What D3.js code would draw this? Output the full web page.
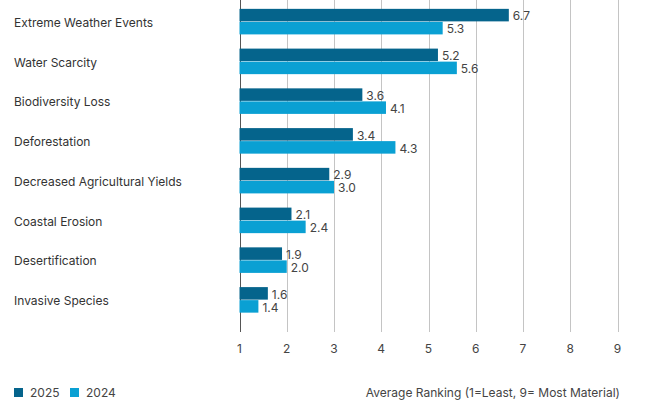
<!DOCTYPE html>
<html>
<head>
<meta charset="utf-8">
<script src="https://d3js.org/d3.v7.min.js"></script>
<style>
  body { margin: 0; background: #fff; }
  svg { display: block; font-family: Inter, 'Open Sans', sans-serif; }
</style>
</head>
<body>
<div id="chart"></div>
<script>
// --- data ---
const categories = [
  "Extreme Weather Events", "Water Scarcity", "Biodiversity Loss", "Deforestation",
  "Decreased Agricultural Yields", "Coastal Erosion", "Desertification", "Invasive Species"
];
const series = ["2025", "2024"];
const values2025 = [6.7, 5.2, 3.6, 3.4, 2.9, 2.1, 1.9, 1.6];
const values2024 = [5.3, 5.6, 4.1, 4.3, 3.0, 2.4, 2.0, 1.4];
const xTicks = [1, 2, 3, 4, 5, 6, 7, 8, 9];
const axisTitle = "Average Ranking (1=Least, 9= Most Material)";

const colors = { "2025": "#05648c", "2024": "#0aa0d3" };
const W = 646, H = 413;

const svg = d3.select("#chart").append("svg").attr("width", W).attr("height", H);

const x = d3.scaleLinear().domain([1, 9]).range([239.5, 617.5]);
const y = d3.scaleBand().domain(categories).range([2, 320]).paddingInner(0.345).paddingOuter(0.1725);
const ySub = d3.scaleBand().domain(series).range([0, y.bandwidth()]);

const rows = categories.map((c, i) => ({ cat: c, vals: { "2025": values2025[i], "2024": values2024[i] } }));

// gridlines
const gridBottom = 332;
svg.append("g").selectAll("line").data(xTicks).join("line")
  .attr("x1", d => Math.round(x(d)) + 0.5).attr("x2", d => Math.round(x(d)) + 0.5)
  .attr("y1", 0).attr("y2", gridBottom)
  .attr("stroke", d => d === 1 ? "#555" : "#c4c4c4").attr("stroke-width", 1);

// tick labels
svg.append("g").selectAll("text").data(xTicks).join("text")
  .attr("x", d => x(d)).attr("y", 353)
  .attr("text-anchor", "middle").attr("font-size", 12).attr("fill", "#444")
  .text(d => d);

// bars
const groups = svg.append("g").selectAll("g").data(rows).join("g")
  .attr("transform", d => `translate(0,${y(d.cat)})`);

groups.selectAll("rect").data(d => series.map(s => ({ s, v: d.vals[s] }))).join("rect")
  .attr("x", x(1))
  .attr("y", d => ySub(d.s))
  .attr("width", d => x(d.v) - x(1))
  .attr("height", ySub.bandwidth() - 0.5)
  .attr("fill", d => colors[d.s]);

groups.selectAll("text.val").data(d => series.map(s => ({ s, v: d.vals[s] }))).join("text")
  .attr("class", "val")
  .attr("x", d => x(d.v) + 4)
  .attr("y", d => ySub(d.s) + ySub.bandwidth() / 2 + 5)
  .attr("font-size", 12).attr("fill", "#444")
  .text(d => d.v.toFixed(1));

// category labels
svg.append("g").selectAll("text").data(categories).join("text")
  .attr("x", 14).attr("y", d => y(d) + y.bandwidth() / 2 + 5)
  .attr("font-size", 12).attr("fill", "#333")
  .text(d => d);

// legend
const leg = svg.append("g").attr("transform", "translate(14,388)");
const legX = [0, 56];
series.forEach((s, i) => {
  leg.append("rect").attr("x", legX[i]).attr("y", 0).attr("width", 9).attr("height", 9).attr("fill", colors[s]);
  leg.append("text").attr("x", legX[i] + 16).attr("y", 9).attr("font-size", 12).attr("fill", "#444").text(s);
});

// axis title
svg.append("text").attr("x", 620).attr("y", 397).attr("text-anchor", "end")
  .attr("font-size", 12).attr("fill", "#444").text(axisTitle);
</script>
</body>
</html>
